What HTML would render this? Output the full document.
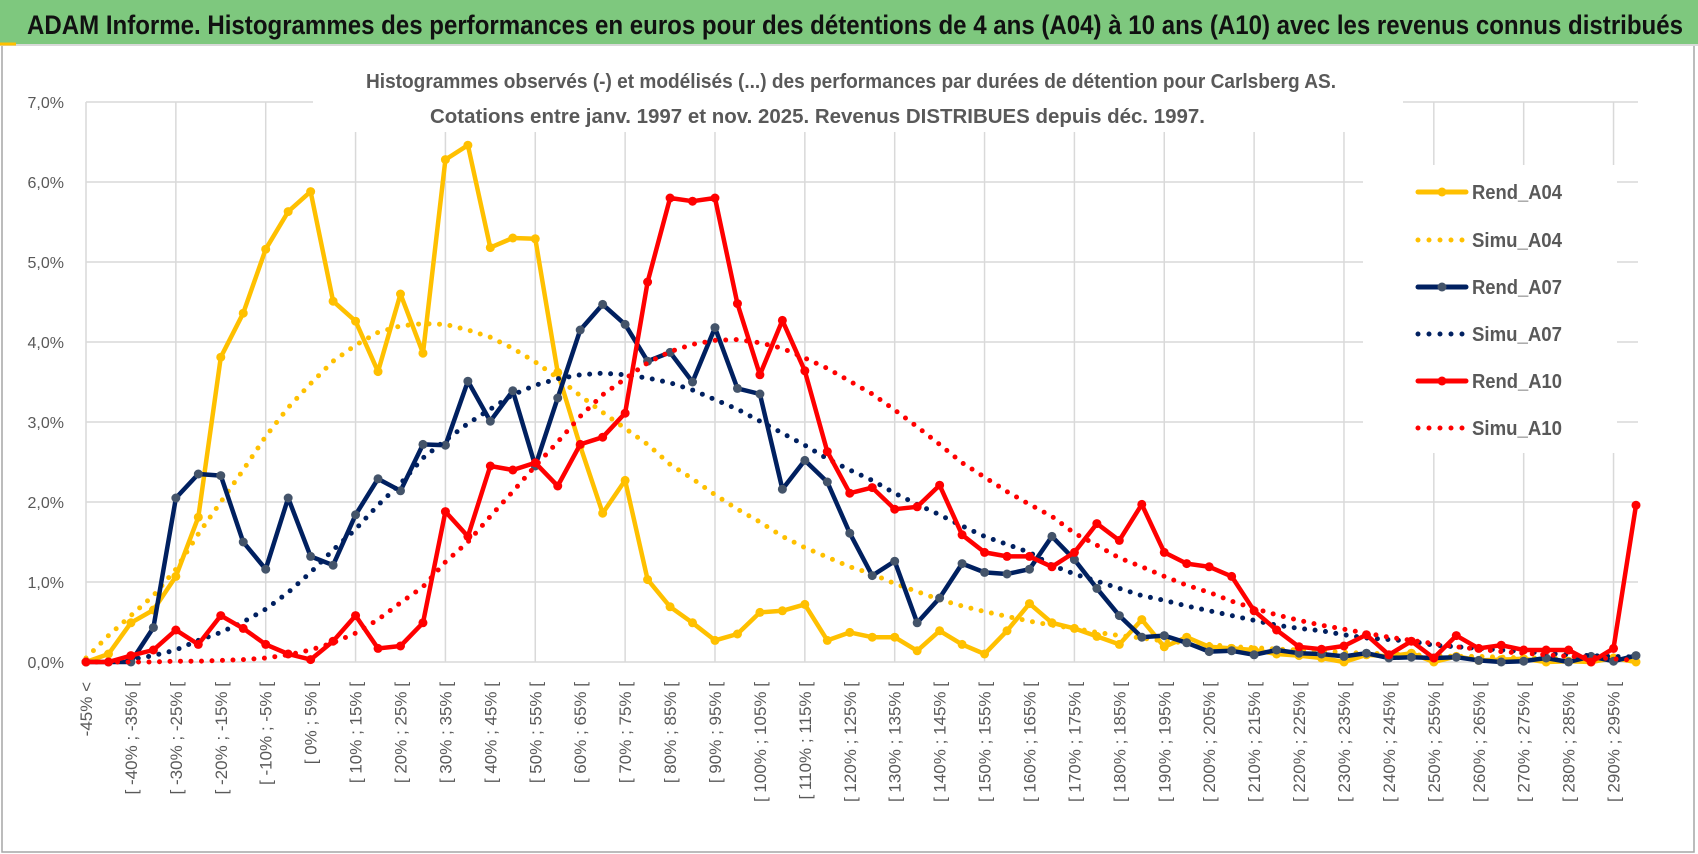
<!DOCTYPE html>
<html><head><meta charset="utf-8"><style>
html,body{margin:0;padding:0;background:#fff;}
svg{display:block;font-family:"Liberation Sans",sans-serif;}
</style></head><body>
<svg id="chart" width="1698" height="854" viewBox="0 0 1698 854" xmlns="http://www.w3.org/2000/svg">
<rect x="0" y="0" width="1698" height="854" fill="#fff"/>
<rect x="2" y="44" width="1692" height="808" fill="none" stroke="#a6a6a6" stroke-width="1.5"/>
<rect x="0" y="0" width="1698" height="44" fill="#7ec87e"/>
<line x1="0" y1="45" x2="1698" y2="45" stroke="#d9d9d9" stroke-width="2"/>
<line x1="0" y1="44" x2="16" y2="44" stroke="#ffc000" stroke-width="3"/>
<text x="27" y="34" font-size="27" font-weight="bold" fill="#111" textLength="1656" lengthAdjust="spacingAndGlyphs">ADAM Informe. Histogrammes des performances en euros pour des détentions de 4 ans (A04) à 10 ans (A10) avec les revenus connus distribués</text>
<g id="grid"></g>
<g id="ylabels"></g>
<g id="xlabels"></g>
<rect x="313" y="58" width="1090" height="74" fill="#fff"/>
<text x="366" y="88" font-size="20" font-weight="bold" fill="#595959" textLength="970" lengthAdjust="spacingAndGlyphs">Histogrammes observés (-) et modélisés (...) des performances par durées de détention pour Carlsberg AS.</text>
<text x="430" y="123" font-size="20" font-weight="bold" fill="#595959" textLength="775" lengthAdjust="spacingAndGlyphs">Cotations entre janv. 1997 et nov. 2025. Revenus DISTRIBUES depuis déc. 1997.</text>
<rect x="1363" y="165" width="254" height="288" fill="#fff"/>
<g id="series"></g>
<g id="legend"></g>
</svg>
<script>
const categoriesStart = -45;
const rendA04 = [0,0.1,0.49,0.65,1.07,1.81,3.81,4.36,5.16,5.63,5.88,4.51,4.26,3.63,4.6,3.86,6.28,6.46,
5.18,5.3,5.29,3.62,2.7,1.86,2.27,1.03,0.69,0.49,0.27,0.35,0.62,0.64,0.72,0.27,0.37,0.31,
0.31,0.14,0.39,0.22,0.1,0.39,0.73,0.49,0.42,0.32,0.22,0.53,0.19,0.31,0.19,0.17,0.15,0.1,
0.08,0.05,0,0.09,0.07,0.11,0,0.07,0.02,0.03,0.04,0,0.01,0,0.05,0];
const simuA04 = [0.05,0.33,0.58,0.83,1.16,1.6,2.0,2.4,2.82,3.18,3.48,3.76,3.96,4.12,4.2,4.23,4.22,4.15,
4.06,3.92,3.75,3.55,3.33,3.12,2.92,2.72,2.47,2.29,2.09,1.91,1.75,1.57,1.43,1.31,1.19,1.1,
0.98,0.88,0.78,0.7,0.63,0.57,0.51,0.46,0.42,0.37,0.33,0.3,0.26,0.24,0.22,0.19,0.18,0.16,
0.15,0.14,0.12,0.11,0.1,0.09,0.08,0.07,0.07,0.06,0.05,0.05,0.04,0.04,0.03,0.03];
const rendA07 = [0,0,0,0.43,2.05,2.35,2.33,1.5,1.16,2.05,1.32,1.21,1.84,2.29,2.14,2.72,2.71,3.51,
3.01,3.39,2.45,3.3,4.15,4.47,4.22,3.76,3.87,3.5,4.18,3.42,3.35,2.16,2.52,2.25,1.61,1.08,
1.26,0.49,0.8,1.23,1.12,1.1,1.16,1.57,1.28,0.92,0.58,0.31,0.33,0.24,0.13,0.14,0.09,0.15,
0.11,0.1,0.07,0.11,0.05,0.06,0.05,0.06,0.02,0,0.01,0.05,0,0.07,0.01,0.08];
const simuA07 = [0,0,0.03,0.08,0.15,0.27,0.37,0.5,0.66,0.87,1.12,1.4,1.66,1.96,2.23,2.55,2.77,2.98,
3.16,3.34,3.46,3.54,3.59,3.61,3.59,3.55,3.49,3.4,3.28,3.16,3.01,2.86,2.71,2.54,2.4,2.27,
2.11,1.97,1.84,1.7,1.57,1.47,1.37,1.21,1.1,1.01,0.92,0.83,0.77,0.7,0.64,0.58,0.52,0.46,
0.42,0.39,0.34,0.3,0.28,0.26,0.21,0.19,0.17,0.15,0.13,0.11,0.09,0.08,0.07,0.06];
const rendA10 = [0,0,0.08,0.15,0.4,0.22,0.58,0.42,0.22,0.1,0.03,0.26,0.58,0.17,0.2,0.49,1.88,1.57,
2.45,2.4,2.49,2.2,2.72,2.81,3.11,4.75,5.8,5.76,5.8,4.48,3.59,4.27,3.64,2.63,2.11,2.18,
1.91,1.94,2.21,1.59,1.37,1.32,1.32,1.19,1.37,1.73,1.52,1.97,1.37,1.23,1.19,1.07,0.64,0.4,
0.19,0.16,0.2,0.34,0.09,0.26,0.05,0.33,0.17,0.21,0.15,0.15,0.15,0,0.17,1.96];
const simuA10 = [0,0,0,0,0.01,0.01,0.02,0.03,0.05,0.09,0.15,0.24,0.36,0.53,0.74,0.94,1.25,1.5,
1.82,2.13,2.45,2.75,3.07,3.34,3.54,3.74,3.88,3.97,4.02,4.03,3.99,3.92,3.8,3.67,3.51,3.35,
3.15,2.94,2.72,2.49,2.31,2.13,1.97,1.82,1.61,1.46,1.3,1.19,1.07,0.96,0.87,0.76,0.67,0.59,
0.52,0.46,0.41,0.36,0.31,0.27,0.23,0.19,0.16,0.13,0.11,0.09,0.07,0.06,0.04,0.02];
const yTicks = [0,1,2,3,4,5,6,7];
const yTickLabels = ["0,0%","1,0%","2,0%","3,0%","4,0%","5,0%","6,0%","7,0%"];
const seriesNames = ["Rend_A04","Simu_A04","Rend_A07","Simu_A07","Rend_A10","Simu_A10"];

const NS = "http://www.w3.org/2000/svg";
const N = rendA04.length;
const X0 = 86, STEP = (1636 - 86) / 69, Y0 = 662, YPX = 80;
function xPos(k){ return X0 + STEP * k; }
function yPos(v){ return Y0 - YPX * v; }
function mk(tag, attrs, parent){ const e = document.createElementNS(NS, tag); for (const a in attrs) e.setAttribute(a, attrs[a]); parent.appendChild(e); return e; }

function catLabel(k){
  if (k === 0) return categoriesStart + "% <";
  const a = categoriesStart - 5 + 5 * k;
  return "[ " + a + "% ; " + (a + 5) + "% [";
}

const grid = document.getElementById('grid');
yTicks.forEach(t => {
  const l = mk('line', {x1: X0, x2: xPos(N - 1) + 2, y1: yPos(t), y2: yPos(t), stroke: '#d9d9d9', 'stroke-width': 1.5}, grid);
  
  
});
for (let k = 0; k < N; k += 4) {
  const l = mk('line', {x1: xPos(k), x2: xPos(k), y1: yPos(7), y2: yPos(0), stroke: '#d9d9d9', 'stroke-width': 1.5}, grid);
  
  
}
const yl = document.getElementById('ylabels');
yTicks.forEach((t, i) => {
  const tx = mk('text', {x: 64, y: yPos(t) + 6, 'text-anchor': 'end', 'font-size': 16, fill: '#595959'}, yl);
  tx.textContent = yTickLabels[i];
  
  
});
const xl = document.getElementById('xlabels');
for (let k = 0; k < N; k += 2) {
  const x = xPos(k) + 6, y = 682;
  const tx = mk('text', {x: x, y: y, 'text-anchor': 'end', 'font-size': 17, fill: '#595959', transform: 'rotate(-90 ' + x + ' ' + y + ')'}, xl);
  tx.textContent = catLabel(k);
  
  
}

const sg = document.getElementById('series');
function drawSolid(data, color, markerColor, name){
  const g = mk('g', {}, sg);
  
  
  const pts = data.map((v, k) => xPos(k).toFixed(1) + ',' + yPos(v).toFixed(1)).join(' ');
  const pl = mk('polyline', {points: pts, fill: 'none', stroke: color, 'stroke-width': 4.5, 'stroke-linejoin': 'round'}, g);
  
  
  data.forEach((v, k) => {
    const c = mk('circle', {cx: xPos(k), cy: yPos(v), r: 4.5, fill: markerColor}, g);
    
    
  });
}
function drawDotted(data, color, name){
  const pts = data.map((v, k) => xPos(k).toFixed(1) + ',' + yPos(v).toFixed(1)).join(' ');
  const pl = mk('polyline', {points: pts, fill: 'none', stroke: color, 'stroke-width': 5, 'stroke-linecap': 'round', 'stroke-dasharray': '0 10.5'}, sg);
  
  
}
drawSolid(rendA04, '#ffc000', '#ffc000', 'rend-a04');
drawDotted(simuA04, '#ffc000', 'simu-a04');
drawSolid(rendA07, '#002060', '#44546a', 'rend-a07');
drawDotted(simuA07, '#002060', 'simu-a07');
drawSolid(rendA10, '#ff0000', '#ff0000', 'rend-a10');
drawDotted(simuA10, '#ff0000', 'simu-a10');

const lg = document.getElementById('legend');
const legColors = ['#ffc000','#ffc000','#002060','#002060','#ff0000','#ff0000'];
const legMarkers = ['#ffc000',null,'#44546a',null,'#ff0000',null];
const legRows = [192,240,287,334,381,428];
seriesNames.forEach((n, i) => {
  const g = mk('g', {}, lg);
  
  
  const y = legRows[i];
  if (legMarkers[i]) {
    mk('line', {x1: 1418, x2: 1466, y1: y, y2: y, stroke: legColors[i], 'stroke-width': 5, 'stroke-linecap': 'round'}, g);
    mk('circle', {cx: 1442, cy: y, r: 4.5, fill: legMarkers[i]}, g);
  } else {
    mk('line', {x1: 1418, x2: 1466, y1: y, y2: y, stroke: legColors[i], 'stroke-width': 5, 'stroke-linecap': 'round', 'stroke-dasharray': '0 11'}, g);
  }
  const t = mk('text', {x: 1472, y: y + 7, 'font-size': 20, 'font-weight': 'bold', fill: '#595959', textLength: 90, lengthAdjust: 'spacingAndGlyphs'}, g);
  t.textContent = n;
});
</script>
</body></html>
